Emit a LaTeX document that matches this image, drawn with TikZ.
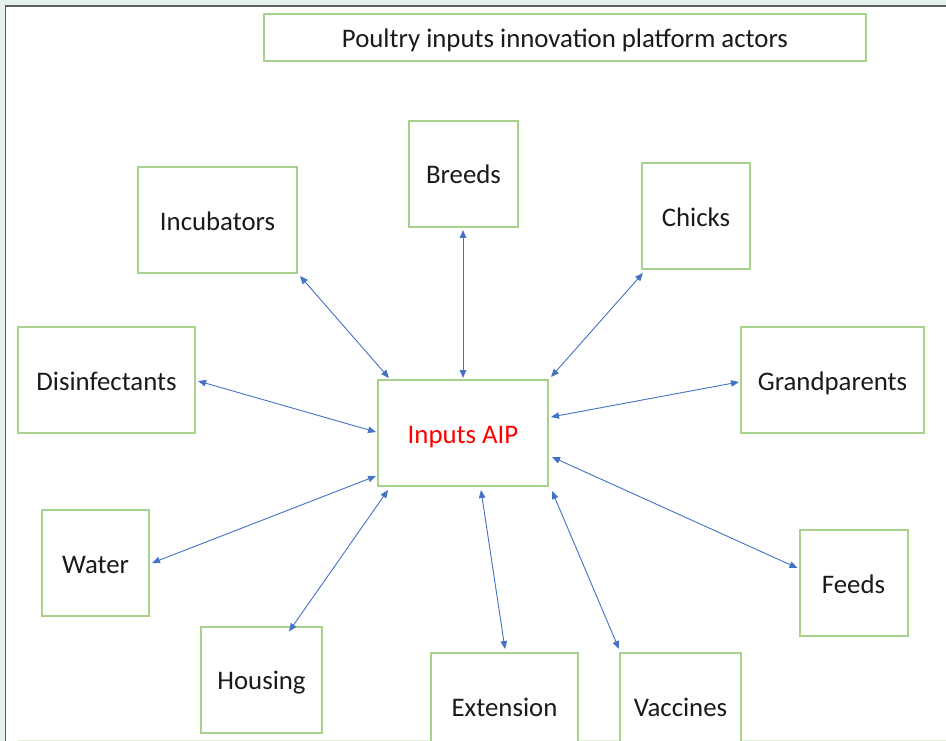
\documentclass[tikz,border=0pt]{standalone}
\usepackage{fontspec}
\setmainfont{Carlito}
\usetikzlibrary{arrows.meta}
\definecolor{boxgreen}{HTML}{A9D18E}
\definecolor{linkblue}{HTML}{4472C4}
\definecolor{inkgray}{HTML}{1A1A1A}
\definecolor{pagetint}{HTML}{E4F1EF}
\definecolor{framegray}{HTML}{5E5E5E}
\definecolor{aipred}{HTML}{FF0000}
\begin{document}
\begin{tikzpicture}[x=1pt,y=-1pt,
  actor/.style={draw=boxgreen, line width=2pt, fill=white, inner sep=0pt,
    font=\fontsize{26.8}{32}\selectfont, text=inkgray,
    text height=20pt, text depth=0pt, align=center},
  link/.style={draw=linkblue, line width=0.9pt,
    {Triangle[length=8pt,width=6.5pt]}-{Triangle[length=8pt,width=6.5pt]}}]
\useasboundingbox (0,0) rectangle (946,741);
\clip (0,0) rectangle (946,741);
% page and frame
\fill[pagetint] (0,0) rectangle (946,741);
\fill[white] (5,6) rectangle (946,741);
\draw[framegray, line width=1.5pt] (5.5,741) -- (5.5,6) -- (946,6);
\draw[boxgreen!35, line width=1pt] (18,740.5) -- (946,740.5);

% title
\node[actor, minimum width=602pt, minimum height=47pt] (title) at (565,37.5)
  {Poultry inputs innovation platform actors};

% hub
\node[actor, minimum width=170pt, minimum height=106pt, text=aipred] (aip) at (463,433) {Inputs AIP};

% actors around the hub
\node[actor, minimum width=109pt, minimum height=106pt] (breeds) at (463.5,174) {Breeds};
\node[actor, minimum width=159pt, minimum height=106pt] (incub) at (217.5,220) {Incubators};
\node[actor, minimum width=108pt, minimum height=106pt] (chicks) at (696,216) {Chicks};
\node[actor, minimum width=177pt, minimum height=106pt] (disinf) at (106.5,380) {Disinfectants};
\node[actor, minimum width=183pt, minimum height=106pt] (grandp) at (832.5,380) {Grandparents};
\node[actor, minimum width=107pt, minimum height=106pt] (water) at (95.5,563) {Water};
\node[actor, minimum width=108pt, minimum height=106pt] (feeds) at (853.5,583) {Feeds};
\node[actor, minimum width=121pt, minimum height=106pt] (housing) at (261.5,679.5) {Housing};
\node[actor, minimum width=147pt, minimum height=106pt] (extension) at (504.5,706) {Extension};
\node[actor, minimum width=121pt, minimum height=106pt] (vaccines) at (680.5,706) {Vaccines};

% two-way links
\draw[link] ([xshift=2pt,yshift=-2pt]incub.south east) -- ([xshift=12pt,yshift=1pt]aip.north west);
\draw[link] ([xshift=-0.5pt,yshift=-2pt]breeds.south) -- ([yshift=1pt]aip.north);
\draw[link] ([xshift=2pt,yshift=-3pt]chicks.south west) -- ([xshift=2pt,yshift=2pt]aip.north east);
\draw[link] ([xshift=2pt,yshift=-1pt]disinf.east) -- ([xshift=-1pt,yshift=1pt]aip.west);
\draw[link] ([xshift=-1pt,yshift=-2pt]grandp.west) -- ([xshift=2pt,yshift=16pt]aip.east);
\draw[link] ([xshift=3pt,yshift=-24pt]aip.east) -- ([xshift=-1pt,yshift=15pt]feeds.west);
\draw[link] ([xshift=3pt,yshift=-4pt]aip.south east) -- ([yshift=3pt]vaccines.north west);
\draw[link] ([xshift=18pt,yshift=-3pt]aip.south) -- ([xshift=0.5pt,yshift=3pt]extension.north);
\draw[link] ([xshift=-1pt,yshift=-43pt]aip.west) -- ([xshift=2pt]water.east);
\draw[link] ([xshift=11pt,yshift=-3pt]aip.south west) -- ([xshift=27.5pt,yshift=-6pt]housing.north);
\end{tikzpicture}
\end{document}
